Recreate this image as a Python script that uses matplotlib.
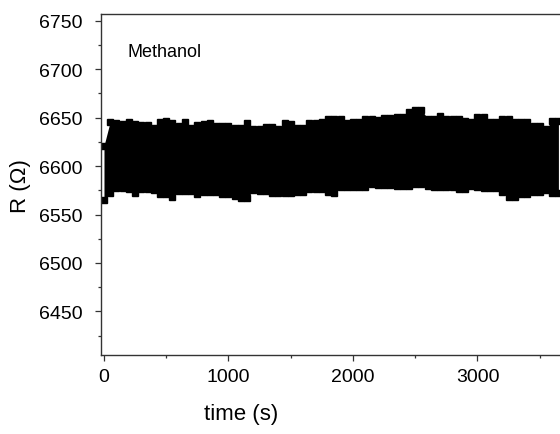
import numpy as np
import matplotlib
matplotlib.use("Agg")
import matplotlib.pyplot as plt
from matplotlib.ticker import MultipleLocator

plt.rcParams['font.family'] = ['Liberation Sans', 'DejaVu Sans']

# sampling times (s) of the band envelope
time_s = np.arange(0, 3700, 50)

r_max = [6621, 6646, 6644, 6643, 6646, 6643, 6642, 6642, 6639, 6646, 6647, 6644, 6641, 6646, 6639, 6642, 6643, 6644,
         6641, 6641, 6641, 6639, 6639, 6644, 6638, 6638, 6640, 6640, 6638, 6645, 6643, 6639, 6639, 6645, 6645, 6646,
         6649, 6649, 6649, 6644, 6646, 6646, 6649, 6649, 6648, 6650, 6650, 6651, 6651, 6656, 6658, 6658, 6649, 6649,
         6652, 6649, 6649, 6649, 6647, 6646, 6651, 6651, 6646, 6646, 6649, 6649, 6646, 6646, 6646, 6641, 6641, 6638, 6647, 6647]

r_min = [6565, 6572, 6577, 6577, 6576, 6572, 6576, 6576, 6575, 6571, 6571, 6568, 6574, 6574, 6574, 6571, 6573, 6573,
         6573, 6571, 6571, 6569, 6567, 6567, 6575, 6574, 6574, 6572, 6572, 6572, 6572, 6573, 6573, 6576, 6576, 6576,
         6573, 6572, 6578, 6578, 6578, 6578, 6578, 6582, 6581, 6580, 6580, 6579, 6579, 6579, 6582, 6582, 6579, 6578,
         6578, 6578, 6578, 6576, 6576, 6579, 6578, 6577, 6577, 6577, 6573, 6568, 6568, 6571, 6571, 6573, 6573, 6575, 6572, 6572]

x_ticks = [0, 1000, 2000, 3000]
y_ticks = [6450, 6500, 6550, 6600, 6650, 6700, 6750]

W, H = 560, 435
ax_left, ax_right, ax_top, ax_bottom = 101, 599, 15, 356
ax_w, ax_h = ax_right - ax_left, ax_bottom - ax_top

fig = plt.figure(figsize=(5.6, 4.35), dpi=100)
ax = fig.add_axes([ax_left/W, (H-ax_bottom)/H, ax_w/W, ax_h/H])

ax.fill_between(time_s, r_min, r_max, color='black', lw=0)
ax.plot(time_s, r_max, 's', ms=5, color='black', mec='black')
ax.plot(time_s, r_min, 's', ms=5, color='black', mec='black')

ax.set_xlim(-24, 3976)
ax.set_ylim(6405, 6757)
ax.set_xticks(x_ticks)
ax.set_yticks(y_ticks)
ax.xaxis.set_minor_locator(MultipleLocator(500))
ax.yaxis.set_minor_locator(MultipleLocator(25))
ax.tick_params(which='major', direction='out', length=4.5, width=0.9, labelsize=14, color='#333333')
ax.tick_params(which='minor', direction='out', length=2.5, width=0.9, color='#333333')
ax.tick_params(axis='y', pad=9)
ax.tick_params(axis='x', pad=5)
for s in ax.spines.values():
    s.set_color('#333333')
    s.set_linewidth(1.0)

ax.set_xlabel('time (s)', fontsize=16)
ax.xaxis.set_label_coords((241 - ax_left)/ax_w, -(404 - ax_bottom)/ax_h)
ax.set_ylabel('R (\u03a9)', fontsize=16)
ax.yaxis.set_label_coords(-(ax_left - 31)/ax_w, (ax_bottom - 186.5)/ax_h)
ax.text(190, 6718, 'Methanol', fontsize=13, va='center', ha='left')

fig.savefig('out.png', dpi=100)
